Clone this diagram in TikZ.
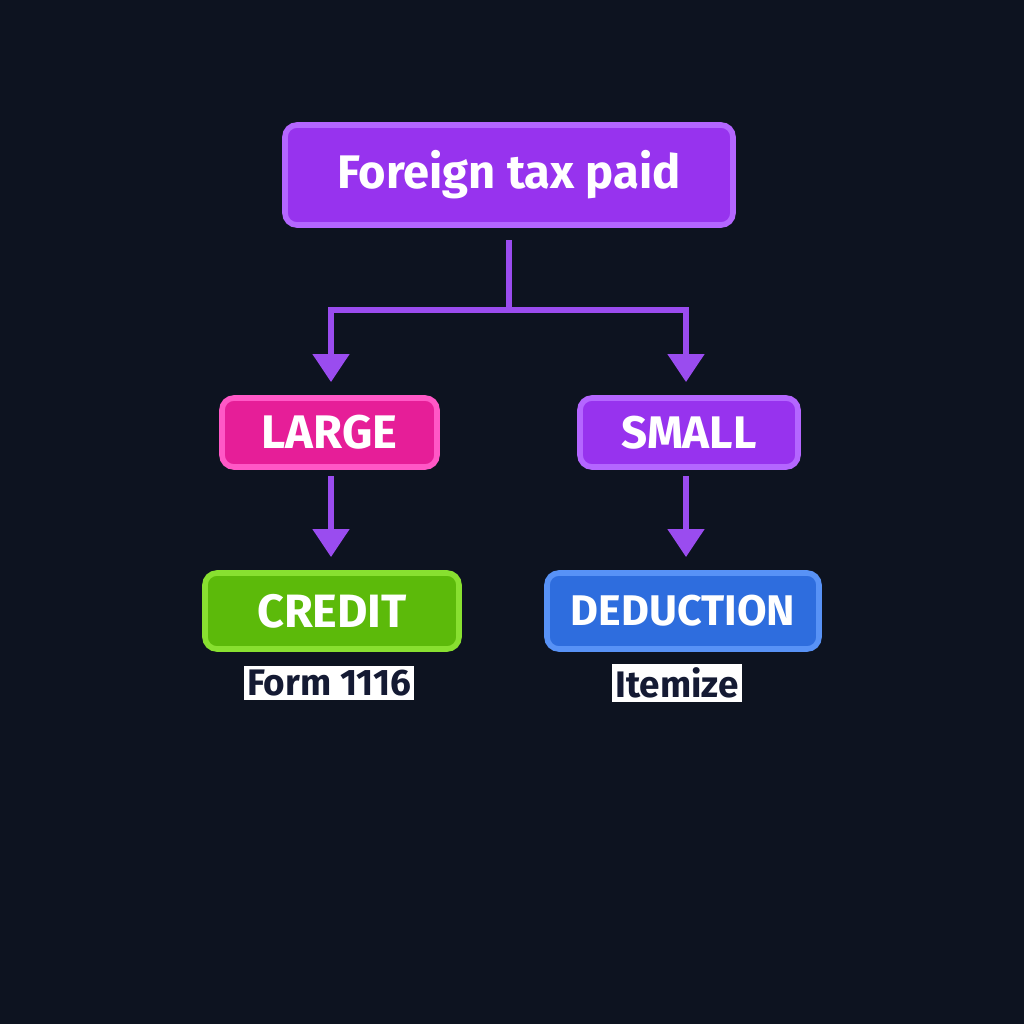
\documentclass[tikz,border=0pt]{standalone}
\usepackage{fontspec}
\setmainfont{Fira Sans}
\usetikzlibrary{calc,arrows.meta}

\definecolor{bgdark}{HTML}{0D1320}
\definecolor{linkpurple}{HTML}{9A4CEF}
\definecolor{purplefill}{HTML}{9733EE}
\definecolor{purpleedge}{HTML}{B466FF}
\definecolor{pinkfill}{HTML}{E61E98}
\definecolor{pinkedge}{HTML}{FF58C6}
\definecolor{greenfill}{HTML}{5CBA0A}
\definecolor{greenedge}{HTML}{88E030}
\definecolor{bluefill}{HTML}{2E6DDE}
\definecolor{blueedge}{HTML}{5892F6}
\definecolor{labelink}{HTML}{141A33}

\tikzset{
  box/.style={rectangle,rounded corners=0.12cm,line width=1.6pt,text=white,
    font=\bfseries,inner sep=0pt,outer sep=0pt},
  link/.style={draw=linkpurple,line width=1.45pt,
    -{Triangle[length=0.28cm,width=0.36cm]}},
  tag/.style={fill=white,text=labelink,inner sep=1pt,font=\bfseries\fontsize{10.5}{12}\selectfont}
}

\begin{document}
\begin{tikzpicture}
	\def \lx {3.31}
	\def \rx {6.86}
	\def \sy {-3.10}
	
	%background
	\fill[bgdark] (0,0) rectangle (10.24,-10.24);
	\useasboundingbox (0,0) rectangle (10.24,-10.24);
	
	%boxes
	\node[box,fill=purplefill,draw=purpleedge,minimum width=4.48cm,minimum height=1.0cm,
		font=\bfseries\fontsize{13.4}{16}\selectfont] (paid) at (5.09,-1.75) {Foreign tax paid};
	\node[box,fill=pinkfill,draw=pinkedge,minimum width=2.15cm,minimum height=0.69cm,
		font=\bfseries\fontsize{13.4}{15}\selectfont] (large) at (3.295,-4.325) {LARGE};
	\node[box,fill=purplefill,draw=purpleedge,minimum width=2.18cm,minimum height=0.69cm,
		font=\bfseries\fontsize{13}{15}\selectfont] (small) at (6.89,-4.325) {SMALL};
	\node[box,fill=greenfill,draw=greenedge,minimum width=2.54cm,minimum height=0.76cm,
		font=\bfseries\fontsize{13.3}{15}\selectfont] (credit) at (3.32,-6.11) {CREDIT};
	\node[box,fill=bluefill,draw=blueedge,minimum width=2.72cm,minimum height=0.76cm,
		font=\bfseries\fontsize{12.2}{14}\selectfont] (deduction) at (6.83,-6.11) {DEDUCTION};
	
	%labels
	\node[tag] (form) at (3.29,-6.83) {Form 1116};
	\node[tag] (itemize) at (6.77,-6.83) {Itemize};
	
	%split
	\coordinate (split) at (paid.south |- 0,\sy);
	\coordinate (lefttop) at (\lx,\sy);
	\coordinate (righttop) at (\rx,\sy);
	
	%connectors
	\draw[link,shorten <=0.15cm,shorten >=0.16cm] (paid.south) -- (split) -- (lefttop) -- (lefttop |- large.north);
	\draw[link,shorten >=0.16cm] (split) -- (righttop) -- (righttop |- small.north);
	\draw[link,shorten <=0.09cm,shorten >=0.16cm] (large.south -| lefttop) -- (lefttop |- credit.north);
	\draw[link,shorten <=0.09cm,shorten >=0.16cm] (small.south -| righttop) -- (righttop |- deduction.north);
\end{tikzpicture}
\end{document}
